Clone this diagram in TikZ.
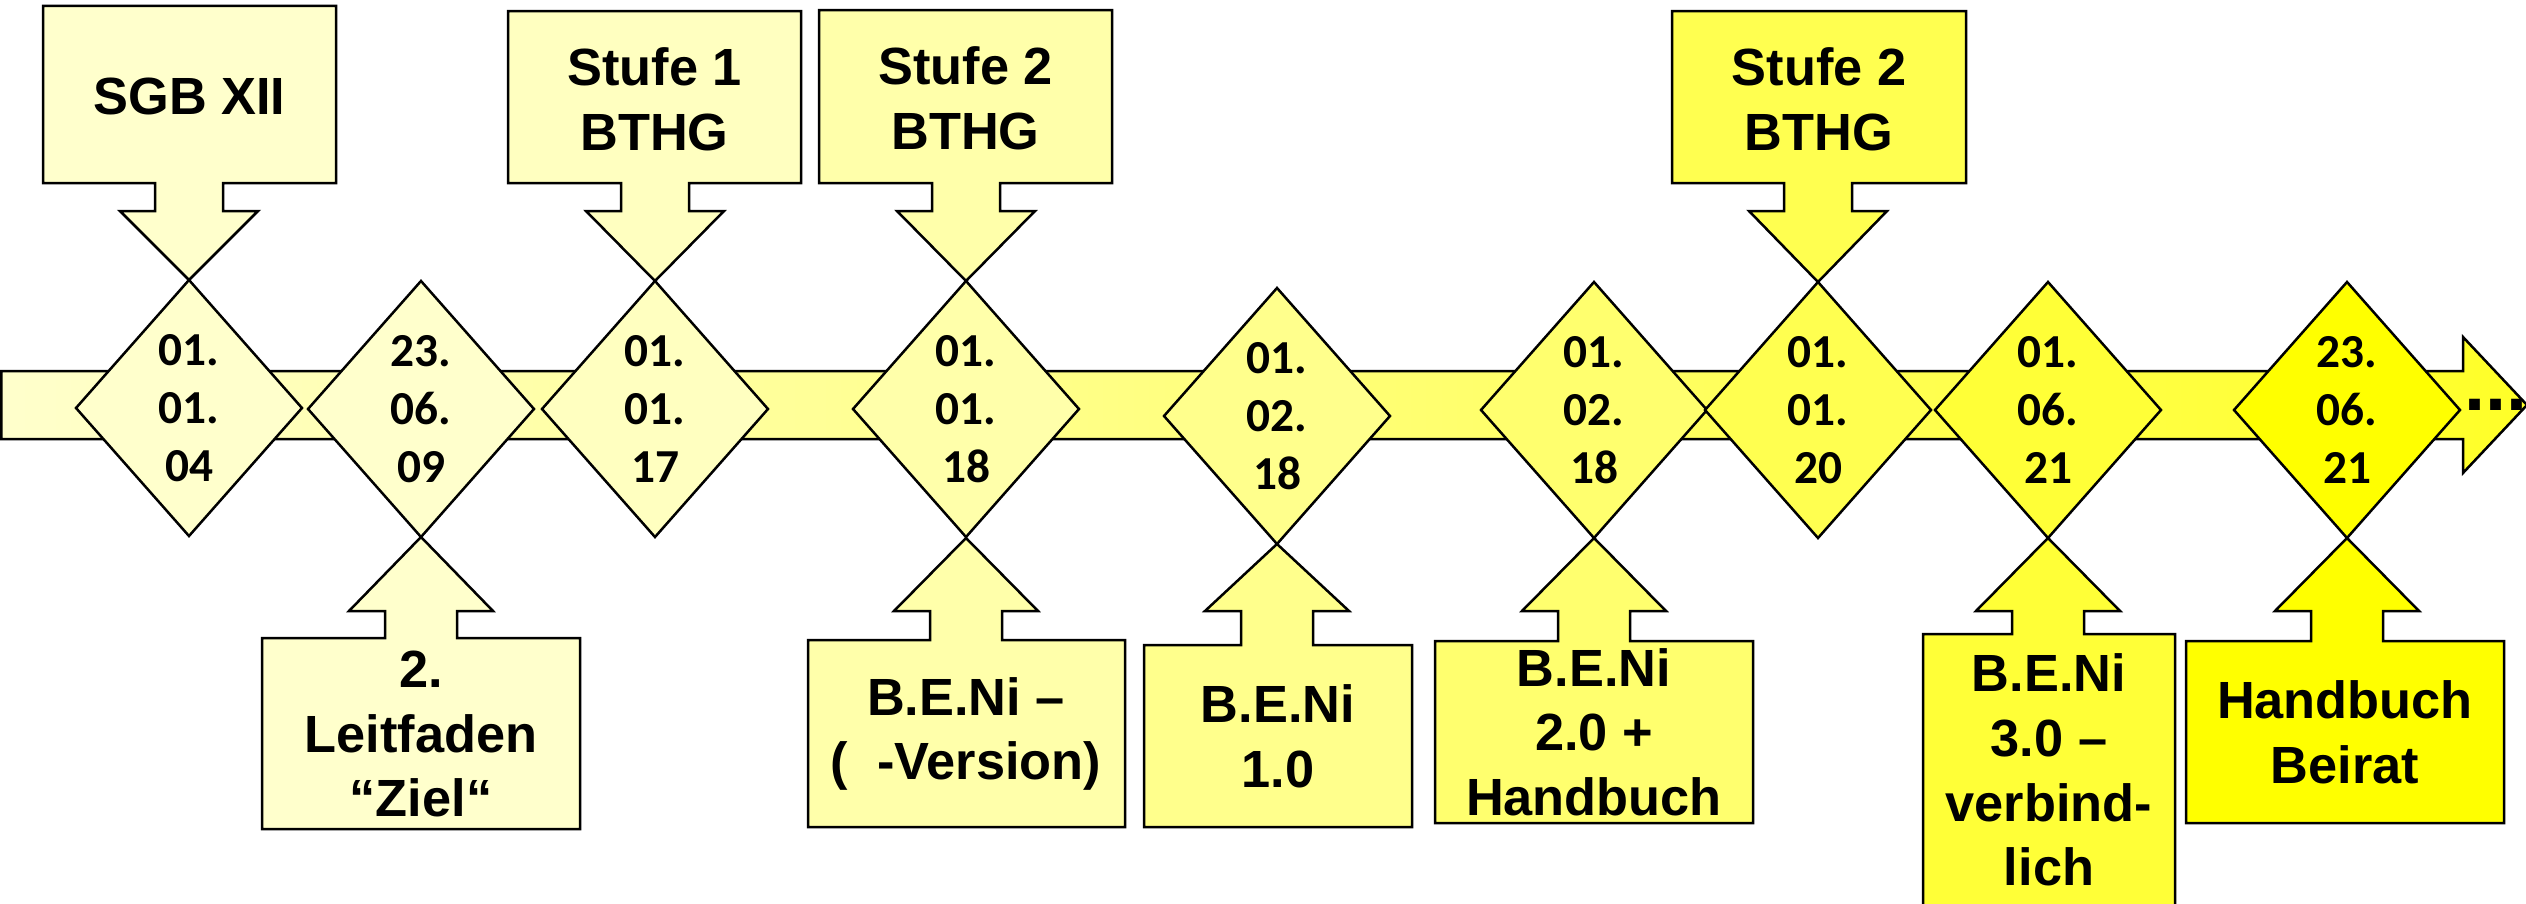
\documentclass[tikz,border=0pt]{standalone}
\usepackage{fontspec}
\setmainfont{Liberation Sans}
\newfontfamily\datefont{Carlito}
\definecolor{cA}{RGB}{255,255,204}
\definecolor{cB}{RGB}{255,255,192}
\definecolor{cC}{RGB}{255,255,170}
\definecolor{cE}{RGB}{255,255,140}
\definecolor{cF}{RGB}{255,255,110}
\definecolor{cG}{RGB}{255,255,80}
\definecolor{cH}{RGB}{255,255,55}
\definecolor{cI}{RGB}{255,255,0}
\definecolor{bandL}{RGB}{255,255,204}
\definecolor{bandR}{RGB}{255,255,40}
\newcommand\topcallout[6]{%
  \draw[outl, fill=#5] (#1,#3) -- (#2,#3) -- (#2,183) -- (#4+34,183) -- (#4+34,211) -- (#4+69,211) -- (#4,#6) -- (#4-69,211) -- (#4-34,211) -- (#4-34,183) -- (#1,183) -- cycle;}
\newcommand\botcallout[7]{%
  \draw[outl, fill=#6] (#1,#3) -- (#5-36,#3) -- (#5-36,611) -- (#5-72,611) -- (#5,#7) -- (#5+72,611) -- (#5+36,611) -- (#5+36,#3) -- (#2,#3) -- (#2,#4) -- (#1,#4) -- cycle;}
\newcommand\diam[5]{%
  \draw[outl, fill=#4] (#2,#3-128) -- (#2+113,#3) -- (#2,#3+128) -- (#2-113,#3) -- cycle;
  \node[datetext] (#1) at (#2,#3) {#5};}
\begin{document}
\begin{tikzpicture}[x=0.3pt,y=-0.3pt,
  outl/.style={draw=black, line width=0.75pt, line join=miter},
  boxtext/.style={font=\fontsize{15.7}{19.4}\selectfont\bfseries, align=center, inner sep=0pt},
  datetext/.style={font=\datefont\fontsize{14.2}{17.4}\selectfont\bfseries, align=center, inner sep=0pt}]
\useasboundingbox (0,0) rectangle (2526,904);
\clip (0,0) rectangle (2526,904);
% timeline band
\draw[outl, left color=bandL, right color=bandR] (1.5,371) -- (2463,371) -- (2463,337) -- (2527,405) -- (2463,473) -- (2463,439) -- (1.5,439) -- cycle;
% top callouts
\topcallout{43}{336}{6}{189}{cA}{280}
\topcallout{508}{801}{11}{655}{cB}{281}
\topcallout{819}{1112}{10}{966}{cC}{281}
\topcallout{1672}{1966}{11}{1818}{cG}{282}
% bottom callouts
\botcallout{262}{580}{638}{829}{421}{cA}{537}
\botcallout{808}{1125}{640}{827}{966}{cC}{538}
\botcallout{1144}{1412}{645}{827}{1277}{cE}{544}
\botcallout{1435}{1753}{641}{823}{1594}{cF}{538}
\botcallout{1923}{2175}{634}{930}{2048}{cH}{538}
\botcallout{2186}{2504}{641}{823}{2347}{cI}{538}
% diamonds
\diam{d1}{189}{408}{cA}{01.\\01.\\04}
\diam{d2}{421}{409}{cA}{23.\\06.\\09}
\diam{d3}{655}{409}{cB}{01.\\01.\\17}
\diam{d4}{966}{409}{cC}{01.\\01.\\18}
\diam{d5}{1277}{416}{cE}{01.\\02.\\18}
\diam{d6}{1594}{410}{cF}{01.\\02.\\18}
\diam{d7}{1818}{410}{cG}{01.\\01.\\20}
\diam{d8}{2048}{410}{cH}{01.\\06.\\21}
\diam{d9}{2347}{410}{cI}{23.\\06.\\21}
% texts
\node[boxtext] (t1) at (189.5,96) {SGB XII};
\node[boxtext] (t2) at (654.5,99) {Stufe 1\\BTHG};
\node[boxtext] (t3) at (965.5,98) {Stufe 2\\BTHG};
\node[boxtext] (t4) at (1819,99) {Stufe 2\\BTHG};
\node[boxtext] (b1) at (421,734) {2.\\Leitfaden\\“Ziel“};
\node[boxtext] (b2) at (966,734) {B.E.Ni –\\(\hspace{0.55em}-Version)};
\node[boxtext] (b3) at (1278,736) {B.E.Ni\\1.0};
\node[boxtext] (b4) at (1594,732) {B.E.Ni\\2.0 +\\Handbuch};
\node[boxtext] (b5) at (2049,770) {B.E.Ni\\3.0 –\\verbind-\\lich};
\node[boxtext] (b6) at (2345,732) {Handbuch\\Beirat};
\node[font=\fontsize{22.7}{24}\selectfont\bfseries, inner sep=0pt, anchor=base west] (dots) at (2464,410) {...};
\end{tikzpicture}
\end{document}
